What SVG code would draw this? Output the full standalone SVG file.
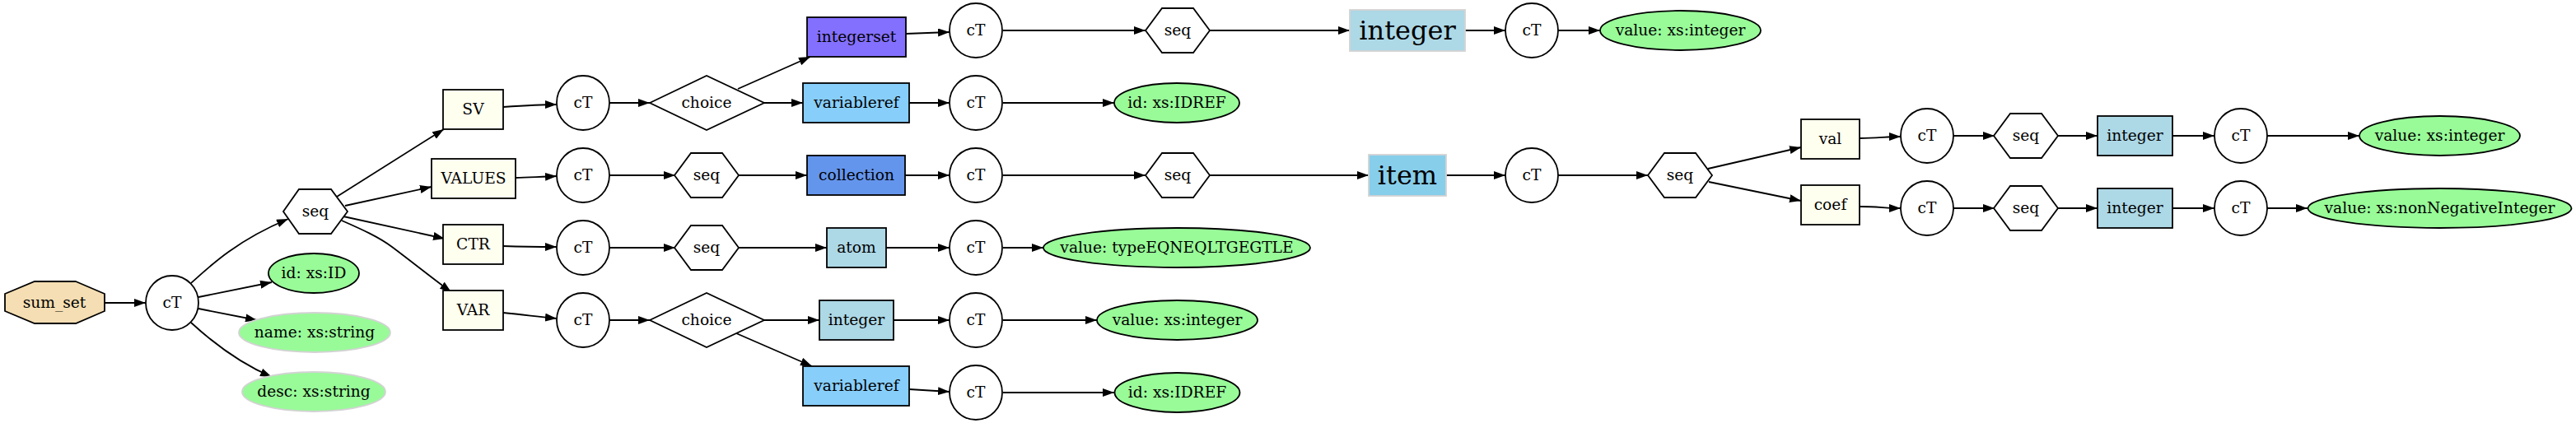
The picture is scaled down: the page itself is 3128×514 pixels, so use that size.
<svg xmlns="http://www.w3.org/2000/svg" width="3128" height="514" viewBox="0 0 3128 514">
<defs>
<marker id="ah" markerWidth="14" markerHeight="10" refX="14" refY="5" orient="auto" markerUnits="userSpaceOnUse">
<path d="M0,0 L14,5 L0,10 z" fill="#000"/>
</marker>
<style>
text{font-family:"DejaVu Serif","Liberation Serif",serif;font-size:18.67px;text-anchor:middle;fill:#000}
.big{font-size:32px}
.n{stroke:#000;stroke-width:1.8}
.ct{fill:#fff;stroke:#000;stroke-width:1.8}
.attr{fill:#98fb98;stroke:#000;stroke-width:1.8}
.attro{fill:#98fb98;stroke:#d3d3d3;stroke-width:1.8}
.el{fill:#fffff0;stroke:#000;stroke-width:1.8}
.lb{fill:#add8e6;stroke:#000;stroke-width:1.8}
.lsb{fill:#87cefa;stroke:#000;stroke-width:1.8}
.cfb{fill:#6495ed;stroke:#000;stroke-width:1.8}
.lslb{fill:#8470ff;stroke:#000;stroke-width:1.8}
.grp{fill:#fff;stroke:#000;stroke-width:1.8}
#edges path{fill:none;stroke:#000;stroke-width:1.8;marker-end:url(#ah)}
</style>
</defs>
<rect width="3128" height="514" fill="#fff"/>

<g id="edges">
<path d="M127,368 L177,368"/>
<path d="M232,344 C256,322 288,292 350,266"/>
<path d="M241,361 L330,343"/>
<path d="M241,375 L312,389"/>
<path d="M232,392 C256,414 288,440 330,458"/>
<path d="M409,239 L539,157"/>
<path d="M419,250 L524,227"/>
<path d="M417,263 L540,290"/>
<path d="M415,268 C440,279 460,288 476,300 C500,318 525,338 548,355"/>
<path d="M611,130 C640,128 655,127 676,127"/>
<path d="M626,216 C645,215 660,215 676,214"/>
<path d="M611,299 C640,300 655,300 676,300"/>
<path d="M611,380 C640,383 655,385 676,387"/>
<path d="M740,125 L789,125"/>
<path d="M740,213 L820,213"/>
<path d="M740,301 L820,301"/>
<path d="M740,389 L789,389"/>
<path d="M896,108 L984,69"/>
<path d="M928,125 L975,125"/>
<path d="M896,213 L980,213"/>
<path d="M896,301 L1004,301"/>
<path d="M928,389 L995,389"/>
<path d="M894,405 L986,445"/>
<path d="M1100,41 L1153,39"/>
<path d="M1104,125 L1153,125"/>
<path d="M1099,213 L1153,213"/>
<path d="M1076,301 L1153,301"/>
<path d="M1085,389 L1153,389"/>
<path d="M1104,473 L1153,476"/>
<path d="M1218,37 L1391,37"/>
<path d="M1218,125 L1353,125"/>
<path d="M1218,213 L1391,213"/>
<path d="M1218,301 L1267,301"/>
<path d="M1218,389 L1332,389"/>
<path d="M1218,477 L1353,477"/>
<path d="M1468,37 L1639,37"/>
<path d="M1468,213 L1662,213"/>
<path d="M1779,37 L1828,37"/>
<path d="M1756,213 L1828,213"/>
<path d="M1892,37 L1943,37"/>
<path d="M1892,213 L2001,213"/>
<path d="M2074,205 L2187,179"/>
<path d="M2075,221 L2187,244"/>
<path d="M2258,168 C2280,168 2290,166 2308,166"/>
<path d="M2258,251 C2280,251 2290,253 2308,253"/>
<path d="M2372,165 L2422,165"/>
<path d="M2372,253 L2422,253"/>
<path d="M2498,165 L2547,165"/>
<path d="M2498,253 L2547,253"/>
<path d="M2638,165 L2689,165"/>
<path d="M2638,253 L2689,253"/>
<path d="M2753,165 L2865,165"/>
<path d="M2753,253 L2802,253"/>
</g>

<g id="sum_set"><polygon points="92,342 127,357 127,378 92,393 42,393 6,378 6,357 42,342" fill="#f5deb3" class="n"/><text x="66" y="374">sum_set</text></g>
<g id="ct1"><ellipse cx="209" cy="368" rx="32" ry="33" class="ct"/><text x="209" y="374">cT</text></g>
<g id="seq1"><polygon points="422,257 402,230 363,230 344,257 363,284 402,284" class="grp"/><text x="383" y="263">seq</text></g>
<g id="attr_id"><ellipse cx="381" cy="332" rx="55" ry="24" class="attr"/><text x="381" y="338">id: xs:ID</text></g>
<g id="attr_name"><ellipse cx="382" cy="404" rx="92" ry="24" class="attro"/><text x="382" y="410">name: xs:string</text></g>
<g id="attr_desc"><ellipse cx="381" cy="476" rx="87" ry="24" class="attro"/><text x="381" y="482">desc: xs:string</text></g>

<g id="SV"><rect x="538" y="109" width="73" height="48" class="el"/><text x="574.5" y="139">SV</text></g>
<g id="VALUES"><rect x="524" y="193" width="102" height="48" class="el"/><text x="575" y="223">VALUES</text></g>
<g id="CTR"><rect x="538" y="273" width="73" height="48" class="el"/><text x="574.5" y="303">CTR</text></g>
<g id="VAR"><rect x="538" y="353" width="73" height="48" class="el"/><text x="574.5" y="383">VAR</text></g>

<g id="ct_sv"><ellipse cx="708" cy="125" rx="32" ry="33" class="ct"/><text x="708" y="131">cT</text></g>
<g id="ct_values"><ellipse cx="708" cy="213" rx="32" ry="33" class="ct"/><text x="708" y="219">cT</text></g>
<g id="ct_ctr"><ellipse cx="708" cy="301" rx="32" ry="33" class="ct"/><text x="708" y="307">cT</text></g>
<g id="ct_var"><ellipse cx="708" cy="389" rx="32" ry="33" class="ct"/><text x="708" y="395">cT</text></g>

<g id="choice_sv"><polygon points="789,125 858,92 928,125 858,158" class="grp"/><text x="858" y="131">choice</text></g>
<g id="seq_values"><polygon points="897,213 877,186 839,186 819,213 839,240 877,240" class="grp"/><text x="858" y="219">seq</text></g>
<g id="seq_ctr"><polygon points="897,301 877,274 839,274 819,301 839,328 877,328" class="grp"/><text x="858" y="307">seq</text></g>
<g id="choice_var"><polygon points="789,389 858,356 928,389 858,422" class="grp"/><text x="858" y="395">choice</text></g>

<g id="integerset"><rect x="980" y="21" width="120" height="48" class="lslb"/><text x="1040" y="51">integerset</text></g>
<g id="variableref1"><rect x="975" y="101" width="129" height="48" class="lsb"/><text x="1040" y="131">variableref</text></g>
<g id="collection"><rect x="980" y="189" width="119" height="48" class="cfb"/><text x="1040" y="219">collection</text></g>
<g id="atom"><rect x="1004" y="277" width="72" height="48" class="lb"/><text x="1040" y="307">atom</text></g>
<g id="integer_var"><rect x="995" y="365" width="90" height="48" class="lb"/><text x="1040" y="395">integer</text></g>
<g id="variableref2"><rect x="975" y="445" width="129" height="48" class="lsb"/><text x="1040" y="475">variableref</text></g>

<g id="ct_integerset"><ellipse cx="1185" cy="37" rx="32" ry="33" class="ct"/><text x="1185" y="43">cT</text></g>
<g id="ct_variableref1"><ellipse cx="1185" cy="125" rx="32" ry="33" class="ct"/><text x="1185" y="131">cT</text></g>
<g id="ct_collection"><ellipse cx="1185" cy="213" rx="32" ry="33" class="ct"/><text x="1185" y="219">cT</text></g>
<g id="ct_atom"><ellipse cx="1185" cy="301" rx="32" ry="33" class="ct"/><text x="1185" y="307">cT</text></g>
<g id="ct_integer_var"><ellipse cx="1185" cy="389" rx="32" ry="33" class="ct"/><text x="1185" y="395">cT</text></g>
<g id="ct_variableref2"><ellipse cx="1185" cy="477" rx="32" ry="33" class="ct"/><text x="1185" y="483">cT</text></g>

<g id="seq_integerset"><polygon points="1469,37 1449,10 1411,10 1391,37 1411,64 1449,64" class="grp"/><text x="1430" y="43">seq</text></g>
<g id="idref1"><ellipse cx="1429" cy="125" rx="76" ry="24" class="attr"/><text x="1429" y="131">id: xs:IDREF</text></g>
<g id="seq_collection"><polygon points="1469,213 1449,186 1411,186 1391,213 1411,240 1449,240" class="grp"/><text x="1430" y="219">seq</text></g>
<g id="value_atom"><ellipse cx="1429" cy="301" rx="162" ry="24" class="attr"/><text x="1429" y="307">value: typeEQNEQLTGEGTLE</text></g>
<g id="value_integer_var"><ellipse cx="1429.5" cy="389" rx="97.5" ry="24" class="attr"/><text x="1429.5" y="395">value: xs:integer</text></g>
<g id="idref2"><ellipse cx="1429.5" cy="477" rx="76" ry="24" class="attr"/><text x="1429.5" y="483">id: xs:IDREF</text></g>

<g id="integer_big"><rect x="1639" y="12" width="140" height="50" fill="#add8e6" stroke="#d3d3d3" stroke-width="1.8"/><text x="1709" y="48" class="big">integer</text></g>
<g id="item_big"><rect x="1662" y="188" width="94" height="50" fill="#87ceeb" stroke="#d3d3d3" stroke-width="1.8"/><text x="1709" y="224" class="big">item</text></g>

<g id="ct_integer_big"><ellipse cx="1860" cy="37" rx="32" ry="33" class="ct"/><text x="1860" y="43">cT</text></g>
<g id="ct_item"><ellipse cx="1860" cy="213" rx="32" ry="33" class="ct"/><text x="1860" y="219">cT</text></g>

<g id="value_integer_big"><ellipse cx="2040.5" cy="37" rx="97.5" ry="24" class="attr"/><text x="2040.5" y="43">value: xs:integer</text></g>
<g id="seq_item"><polygon points="2079,213 2059,186 2021,186 2001,213 2021,240 2059,240" class="grp"/><text x="2040" y="219">seq</text></g>

<g id="val"><rect x="2187" y="145" width="71" height="48" class="el"/><text x="2222.5" y="175">val</text></g>
<g id="coef"><rect x="2187" y="225" width="71" height="48" class="el"/><text x="2222.5" y="255">coef</text></g>

<g id="ct_val"><ellipse cx="2340" cy="165" rx="32" ry="33" class="ct"/><text x="2340" y="171">cT</text></g>
<g id="ct_coef"><ellipse cx="2340" cy="253" rx="32" ry="33" class="ct"/><text x="2340" y="259">cT</text></g>

<g id="seq_val"><polygon points="2499,165 2479,138 2441,138 2421,165 2441,192 2479,192" class="grp"/><text x="2460" y="171">seq</text></g>
<g id="seq_coef"><polygon points="2499,253 2479,226 2441,226 2421,253 2441,280 2479,280" class="grp"/><text x="2460" y="259">seq</text></g>

<g id="integer_val"><rect x="2547" y="141" width="91" height="48" class="lb"/><text x="2592.5" y="171">integer</text></g>
<g id="integer_coef"><rect x="2547" y="229" width="91" height="48" class="lb"/><text x="2592.5" y="259">integer</text></g>

<g id="ct_integer_val"><ellipse cx="2721" cy="165" rx="32" ry="33" class="ct"/><text x="2721" y="171">cT</text></g>
<g id="ct_integer_coef"><ellipse cx="2721" cy="253" rx="32" ry="33" class="ct"/><text x="2721" y="259">cT</text></g>

<g id="value_val"><ellipse cx="2962.5" cy="165" rx="97.5" ry="24" class="attr"/><text x="2962.5" y="171">value: xs:integer</text></g>
<g id="value_coef"><ellipse cx="2962.5" cy="253" rx="160" ry="24" class="attr"/><text x="2962.5" y="259">value: xs:nonNegativeInteger</text></g>
</svg>
